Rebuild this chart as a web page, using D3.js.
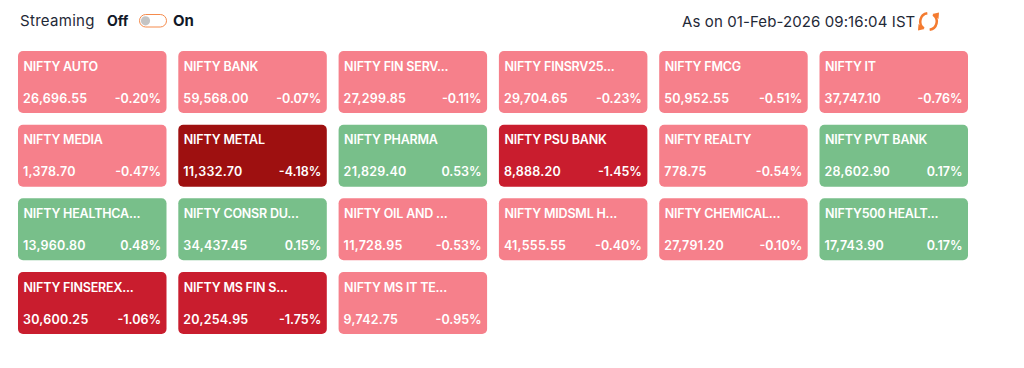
<!DOCTYPE html>
<html lang="en">

<head>
    <meta charset="UTF-8">
    <title>Index heatmap</title>
    <script src="https://cdnjs.cloudflare.com/ajax/libs/d3/7.8.5/d3.min.js"></script>
    <style>
        html, body { margin: 0; padding: 0; background: #fff; overflow: hidden; }
        text { font-family: Inter, "Open Sans", sans-serif; }
    </style>
</head>

<body>
    <script>
        const names = ["NIFTY AUTO", "NIFTY BANK", "NIFTY FIN SERV...", "NIFTY FINSRV25...", "NIFTY FMCG", "NIFTY IT",
            "NIFTY MEDIA", "NIFTY METAL", "NIFTY PHARMA", "NIFTY PSU BANK", "NIFTY REALTY", "NIFTY PVT BANK",
            "NIFTY HEALTHCA...", "NIFTY CONSR DU...", "NIFTY OIL AND ...", "NIFTY MIDSML H...", "NIFTY CHEMICAL...", "NIFTY500 HEALT...",
            "NIFTY FINSEREX...", "NIFTY MS FIN S...", "NIFTY MS IT TE..."];
        const prices = [26696.55, 59568.00, 27299.85, 29704.65, 50952.55, 37747.10,
            1378.70, 11332.70, 21829.40, 8888.20, 778.75, 28602.90,
            13960.80, 34437.45, 11728.95, 41555.55, 27791.20, 17743.90,
            30600.25, 20254.95, 9742.75];
        const changes = [-0.20, -0.07, -0.11, -0.23, -0.51, -0.76,
            -0.47, -4.18, 0.53, -1.45, -0.54, 0.17,
            0.48, 0.15, -0.53, -0.40, -0.10, 0.17,
            -1.06, -1.75, -0.95];

        const width = 1024, height = 368;
        const cols = 6, cardW = 148.5, cardH = 62;

        const svg = d3.select("body").append("svg")
            .attr("width", width)
            .attr("height", height)
            .style("display", "block");

        const x = d3.scaleLinear().domain([0, cols - 1]).range([18, 819.5]);
        const y = d3.scaleLinear().domain([0, 3]).range([51, 272]);
        const color = d3.scaleThreshold()
            .domain([-4, -1, 0])
            .range(["#9e1010", "#c91d2e", "#f6808b", "#78bf8a"]);
        const fmtPrice = d3.format(",.2f");
        const fmtPct = d => d.toFixed(2) + "%";

        const card = svg.selectAll("g.card")
            .data(names)
            .enter()
            .append("g")
            .attr("class", "card")
            .attr("transform", (d, i) => "translate(" + x(i % cols) + "," + y(Math.floor(i / cols)) + ")");

        card.append("rect")
            .attr("width", cardW)
            .attr("height", cardH)
            .attr("rx", 5)
            .attr("fill", (d, i) => color(changes[i]));

        card.append("text")
            .attr("x", 5.5)
            .attr("y", 19.8)
            .attr("fill", "#fff")
            .attr("font-size", 12.5)
            .attr("font-weight", 600)
            .attr("letter-spacing", -0.2)
            .text(d => d);

        card.append("text")
            .attr("x", 5)
            .attr("y", 51.5)
            .attr("fill", "#fff")
            .attr("font-size", 12.5)
            .attr("font-weight", 600)
            .attr("letter-spacing", 0.25)
            .text((d, i) => fmtPrice(prices[i]));

        card.append("text")
            .attr("x", 143)
            .attr("y", 51.5)
            .attr("text-anchor", "end")
            .attr("fill", "#fff")
            .attr("font-size", 12.5)
            .attr("font-weight", 600)
            .text((d, i) => fmtPct(changes[i]));

        // header
        svg.append("text").attr("x", 20).attr("y", 26).attr("font-size", 15).attr("letter-spacing", 0.3).attr("fill", "#1f2937").text("Streaming");
        svg.append("text").attr("x", 107).attr("y", 26).attr("font-size", 14).attr("font-weight", 700).attr("fill", "#111827").text("Off");
        svg.append("text").attr("x", 173).attr("y", 26).attr("font-size", 15).attr("font-weight", 700).attr("fill", "#111827").text("On");

        svg.append("rect").attr("x", 139.5).attr("y", 14.5).attr("width", 27).attr("height", 12.5).attr("rx", 6.2)
            .attr("fill", "#fff").attr("stroke", "#f58b4c").attr("stroke-width", 1);
        svg.append("circle").attr("cx", 145.5).attr("cy", 20.8).attr("r", 4.6).attr("fill", "#c4c4c4");

        svg.append("text").attr("x", 682).attr("y", 27).attr("font-size", 15).attr("letter-spacing", 0.1).attr("fill", "#1f2937").text("As on 01-Feb-2026 09:16:04 IST");

        // refresh icon
        const arc = d3.arc().innerRadius(7).outerRadius(9.5);
        const icon = svg.append("g").attr("transform", "translate(928.5,21.5)").attr("fill", "#f47b30");
        icon.append("path").attr("d", arc({ startAngle: 0.6, endAngle: 3.0 }));
        icon.append("path").attr("d", arc({ startAngle: 3.74, endAngle: 6.14 }));
        icon.append("path").attr("d", "M4,-7.5 L10.5,-9 L10,-2.5 Z");
        icon.append("path").attr("d", "M-4,7.5 L-10.5,9 L-10,2.5 Z");
    </script>
</body>

</html>
